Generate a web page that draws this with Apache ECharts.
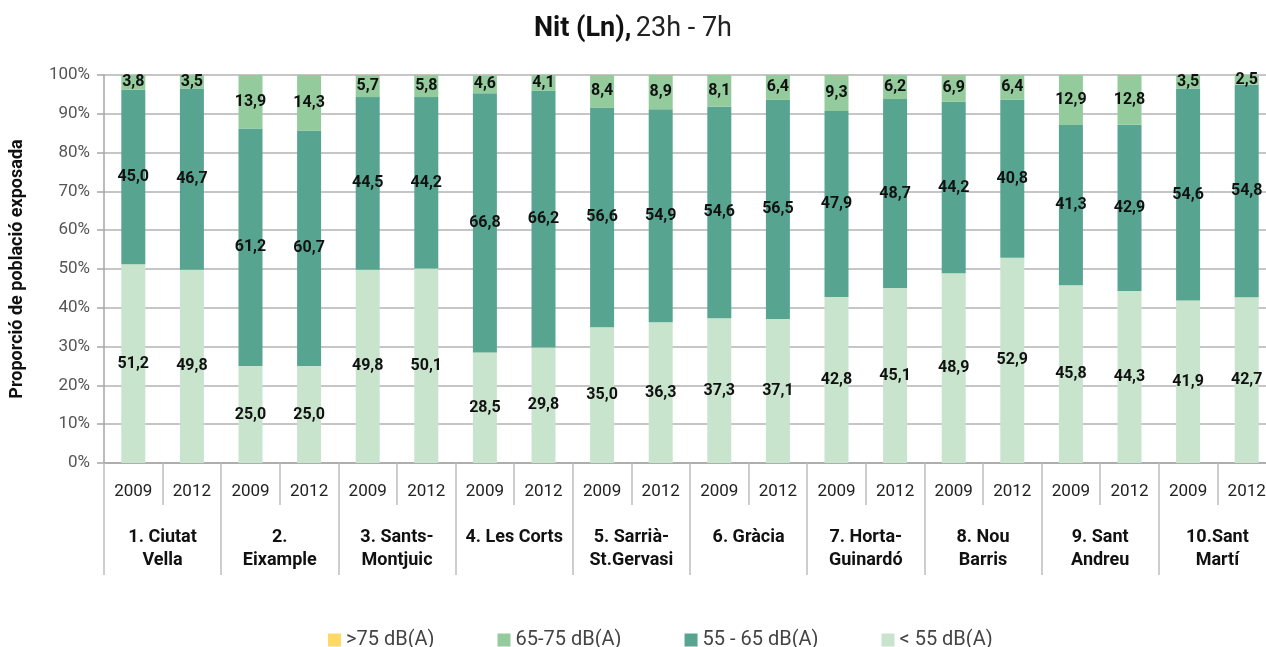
<!DOCTYPE html>
<html>
<head>
<meta charset="utf-8">
<script src="https://cdn.jsdelivr.net/npm/echarts@6/dist/echarts.min.js"></script>
<style>
  html, body { margin: 0; padding: 0; background: #fff; }
  #chart { width: 1266px; height: 647px; }
</style>
</head>
<body>
<div id="chart"></div>
<script>
// years under each bar, districts under each pair
const years = ['2009', '2012', '2009', '2012', '2009', '2012', '2009', '2012', '2009', '2012',
  '2009', '2012', '2009', '2012', '2009', '2012', '2009', '2012', '2009', '2012'];
const districts = ['1. Ciutat\nVella', '2.\nEixample', '3. Sants-\nMontjuic', '4. Les Corts',
  '5. Sarrià-\nSt.Gervasi', '6. Gràcia', '7. Horta-\nGuinardó', '8. Nou\nBarris',
  '9. Sant\nAndreu', '10.Sant\nMartí'];

const below55 = [51.2, 49.8, 25.0, 25.0, 49.8, 50.1, 28.5, 29.8, 35.0, 36.3,
  37.3, 37.1, 42.8, 45.1, 48.9, 52.9, 45.8, 44.3, 41.9, 42.7];
const db55to65 = [45.0, 46.7, 61.2, 60.7, 44.5, 44.2, 66.8, 66.2, 56.6, 54.9,
  54.6, 56.5, 47.9, 48.7, 44.2, 40.8, 41.3, 42.9, 54.6, 54.8];
const db65to75 = [3.8, 3.5, 13.9, 14.3, 5.7, 5.8, 4.6, 4.1, 8.4, 8.9,
  8.1, 6.4, 9.3, 6.2, 6.9, 6.4, 12.9, 12.8, 3.5, 2.5];
const above75 = [0, 0, 0, 0, 0, 0, 0, 0, 0, 0, 0, 0, 0, 0, 0, 0, 0, 0, 0, 0];

const chart = echarts.init(document.getElementById('chart'));

const valueLabel = {
  show: true,
  position: 'inside',
  color: '#111',
  fontFamily: 'Roboto',
  fontWeight: 'bold',
  fontSize: 16,
  formatter: p => p.value ? p.value.toFixed(1).replace('.', ',') : ''
};

function bar(name, data, color, showLabel) {
  return {
    name,
    type: 'bar',
    stack: 'total',
    data,
    barWidth: 24,
    itemStyle: { color },
    label: showLabel ? valueLabel : { show: false }
  };
}

const option = {
  animation: false,
  textStyle: { fontFamily: 'Roboto' },
  title: {
    text: '{b|Nit (Ln),} {r|23h - 7h}',
    left: 'center',
    top: 11,
    textStyle: {
      rich: {
        b: { fontSize: 27, fontWeight: 'bold', color: '#111', fontFamily: 'Roboto' },
        r: { fontSize: 27, fontWeight: 'normal', color: '#222', fontFamily: 'Roboto' }
      }
    }
  },
  legend: {
    data: ['>75 dB(A)', '65-75 dB(A)', '55 - 65 dB(A)', '< 55 dB(A)'],
    left: 323,
    top: 625,
    itemWidth: 13,
    itemHeight: 13,
    itemGap: 63,
    icon: 'rect',
    textStyle: { fontSize: 20, color: '#444' }
  },
  grid: { left: 104, top: 75, bottom: 184, width: 1172, outerBoundsMode: 'none', containLabel: false },
  yAxis: {
    type: 'value',
    min: 0,
    max: 100,
    interval: 10,
    name: 'Proporció de població exposada',
    nameLocation: 'middle',
    nameGap: 78,
    nameTextStyle: { fontSize: 18, fontWeight: 'bold', color: '#111' },
    axisLine: { show: true, lineStyle: { color: '#a6a6a6', width: 1.5 } },
    axisTick: { show: true, length: 7, lineStyle: { color: '#a6a6a6', width: 1.5 } },
    axisLabel: { fontSize: 17, color: '#555', margin: 14, formatter: '{value}%' },
    splitLine: { lineStyle: { color: '#b3b3b3', width: 1.5 } }
  },
  xAxis: [
    {
      type: 'category',
      data: years,
      position: 'bottom',
      axisLine: { show: true, lineStyle: { color: '#a6a6a6', width: 1.5 } },
      axisTick: { show: true, interval: 0, length: 42, lineStyle: { color: '#bdbdbd', width: 1.5 } },
      axisLabel: { interval: 0, fontSize: 17, color: '#222', margin: 20 }
    },
    {
      type: 'category',
      data: districts,
      position: 'bottom',
      axisLine: { show: false },
      axisTick: { show: true, interval: 0, length: 112, lineStyle: { color: '#bdbdbd', width: 1.5 } },
      axisLabel: { interval: 0, fontSize: 18, fontWeight: 'bold', color: '#111', margin: 63, lineHeight: 23 }
    }
  ],
  series: [
    bar('< 55 dB(A)', below55, '#c8e4cd', true),
    bar('55 - 65 dB(A)', db55to65, '#57a590', true),
    bar('65-75 dB(A)', db65to75, '#93cb9c', true),
    bar('>75 dB(A)', above75, '#ffd966', false)
  ]
};

chart.setOption(option);
</script>
</body>
</html>
